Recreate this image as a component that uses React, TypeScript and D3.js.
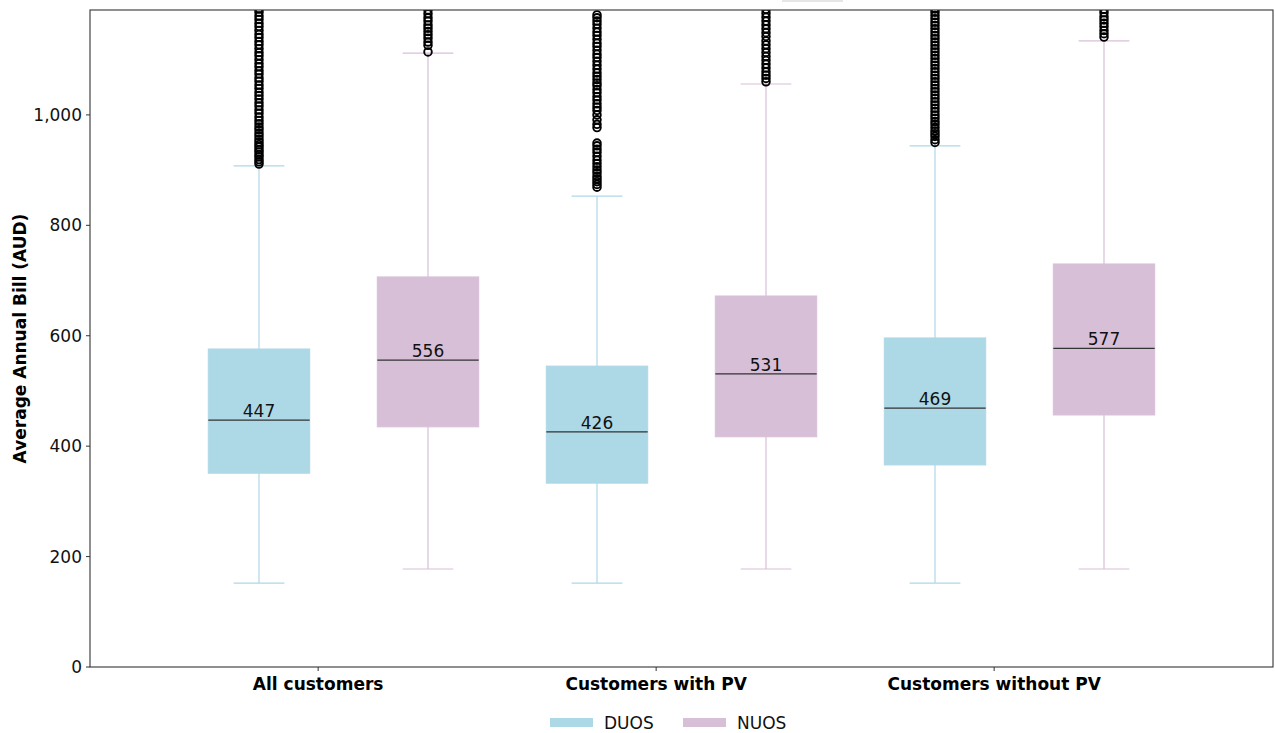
import React from "react";
import * as d3 from "d3";

const groups = ["All customers", "Customers with PV", "Customers without PV"];
const series = ["DUOS", "NUOS"];
const seriesColors = ["#ADD8E6", "#D8BFD8"];

// box stats per group: [DUOS, NUOS]
const whiskerLow = [[152, 177.5], [152, 177.5], [152, 177.5]];
const q1 = [[351, 435], [333, 417], [366, 456.5]];
const medians = [[447, 556], [426, 531], [469, 577]];
const q3 = [[576, 706.5], [545, 672], [596, 730]];
const whiskerHigh = [[907.6, 1112], [853, 1056], [944, 1134]];

const outDuosAll = [911, 915, 919, 924, 928, 933, 937, 942, 946, 951, 956, 962, 967, 973, 978, 984, 990, 996, 1003, 1009, 1016, 1022, 1029, 1035, 1041, 1048, 1054, 1061, 1067, 1074, 1080, 1087, 1093, 1100, 1107, 1113, 1120, 1127, 1133, 1140, 1146, 1153, 1160, 1166, 1173, 1179, 1186, 1192];
const outNuosAll = [1114, 1126, 1132, 1139, 1145, 1151, 1157, 1163, 1170, 1176, 1183, 1190];
const outDuosPV = [869, 874, 879, 884, 889, 895, 900, 906, 912, 918, 925, 932, 938, 944, 949, 977, 983, 991, 1000, 1008, 1014, 1020, 1027, 1033, 1040, 1046, 1053, 1058, 1064, 1070, 1076, 1083, 1090, 1097, 1104, 1110, 1117, 1124, 1130, 1137, 1144, 1150, 1157, 1164, 1170, 1176, 1181];
const outNuosPV = [1060, 1066, 1072, 1078, 1085, 1092, 1099, 1106, 1113, 1120, 1127, 1134, 1142, 1149, 1156, 1163, 1170, 1177, 1184, 1191];
const outDuosNoPV = [950, 955, 961, 966, 971, 977, 983, 988, 994, 1000, 1006, 1012, 1018, 1024, 1030, 1036, 1042, 1048, 1054, 1060, 1066, 1072, 1078, 1084, 1090, 1096, 1102, 1108, 1114, 1120, 1126, 1132, 1138, 1144, 1150, 1156, 1162, 1168, 1174, 1180, 1186, 1192];
const outNuosNoPV = [1141, 1147, 1153, 1160, 1166, 1172, 1178, 1185, 1191];
const outliers = [[outDuosAll, outNuosAll], [outDuosPV, outNuosPV], [outDuosNoPV, outNuosNoPV]];

const yTicks = [0, 200, 400, 600, 800, 1000];

const W = 1275, H = 733;
const L = 90, R = 1273, T = 10, B = 667;
const FONT = "DejaVu Sans, sans-serif";
const FS = 17;

export default function App() {
  const x = d3.scaleLinear().domain([-1, 6]).range([L, R]);
  const y = d3.scaleLinear().domain([0, 1190]).range([B, T]);
  const fmt = d3.format(",");
  const boxW = x(0.6) - x(0);
  const capW = x(0.3) - x(0);

  return (
    <svg width={W} height={H} style={{ position: "absolute", left: 0, top: 0, background: "#fff" }} fontFamily={FONT}>
      <defs>
        <clipPath id="plotClip">
          <rect x={L} y={T} width={R - L} height={B - T} />
        </clipPath>
      </defs>
      <rect x={782} y={0} width={61} height={2} fill="#e6e6e6" />
      <g clipPath="url(#plotClip)">
        {groups.map((g, gi) =>
          series.map((s, si) => {
            const p = gi * 2 + si;
            const cx = x(p);
            const col = seriesColors[si];
            return (
              <g key={g + s}>
                <line x1={cx} x2={cx} y1={y(whiskerLow[gi][si])} y2={y(q1[gi][si])} stroke={col} strokeWidth={1.2} />
                <line x1={cx} x2={cx} y1={y(q3[gi][si])} y2={y(whiskerHigh[gi][si])} stroke={col} strokeWidth={1.2} />
                <line x1={cx - capW / 2} x2={cx + capW / 2} y1={y(whiskerLow[gi][si])} y2={y(whiskerLow[gi][si])} stroke={col} strokeWidth={1.2} />
                <line x1={cx - capW / 2} x2={cx + capW / 2} y1={y(whiskerHigh[gi][si])} y2={y(whiskerHigh[gi][si])} stroke={col} strokeWidth={1.2} />
                <rect x={cx - boxW / 2} y={y(q3[gi][si])} width={boxW} height={y(q1[gi][si]) - y(q3[gi][si])} fill={col} stroke={col} strokeWidth={1} />
                <line x1={cx - boxW / 2} x2={cx + boxW / 2} y1={y(medians[gi][si])} y2={y(medians[gi][si])} stroke="#333" strokeWidth={1.3} />
                {outliers[gi][si].map((v, k) => (
                  <circle key={k} cx={cx} cy={y(v)} r={3.8} fill="none" stroke="#000" strokeWidth={1.9} />
                ))}
              </g>
            );
          })
        )}
      </g>
      {groups.map((g, gi) =>
        series.map((s, si) => {
          const p = gi * 2 + si;
          return (
            <text key={"m" + g + s} x={x(p)} y={y(medians[gi][si]) - 3} textAnchor="middle" fontSize={FS} fill="#111">
              {fmt(medians[gi][si])}
            </text>
          );
        })
      )}
      <rect x={L} y={T} width={R - L} height={B - T} fill="none" stroke="#333" strokeWidth={1.1} />
      {yTicks.map((t) => (
        <g key={t}>
          <line x1={L - 4} x2={L} y1={y(t)} y2={y(t)} stroke="#333" strokeWidth={1} />
          <text x={L - 8} y={y(t)} dy="0.35em" textAnchor="end" fontSize={FS} fill="#111">{fmt(t)}</text>
        </g>
      ))}
      {groups.map((g, gi) => {
        const tx = x(gi * 2 + 0.35);
        return (
          <g key={"xt" + g}>
            <line x1={tx} x2={tx} y1={B} y2={B + 4} stroke="#333" strokeWidth={1} />
            <text x={tx} y={690} textAnchor="middle" fontSize={FS} fontWeight="bold" fill="#000">{g}</text>
          </g>
        );
      })}
      <text transform={`translate(26,${(T + B) / 2}) rotate(-90)`} textAnchor="middle" fontSize={FS} fontWeight="bold" fill="#000">
        Average Annual Bill (AUD)
      </text>
      {series.map((s, si) => (
        <g key={"lg" + s} transform={`translate(${550 + si * 133},0)`}>
          <rect x={0} y={718} width={43} height={9} fill={seriesColors[si]} />
          <text x={54} y={729} fontSize={FS} fill="#111">{s}</text>
        </g>
      ))}
    </svg>
  );
}
